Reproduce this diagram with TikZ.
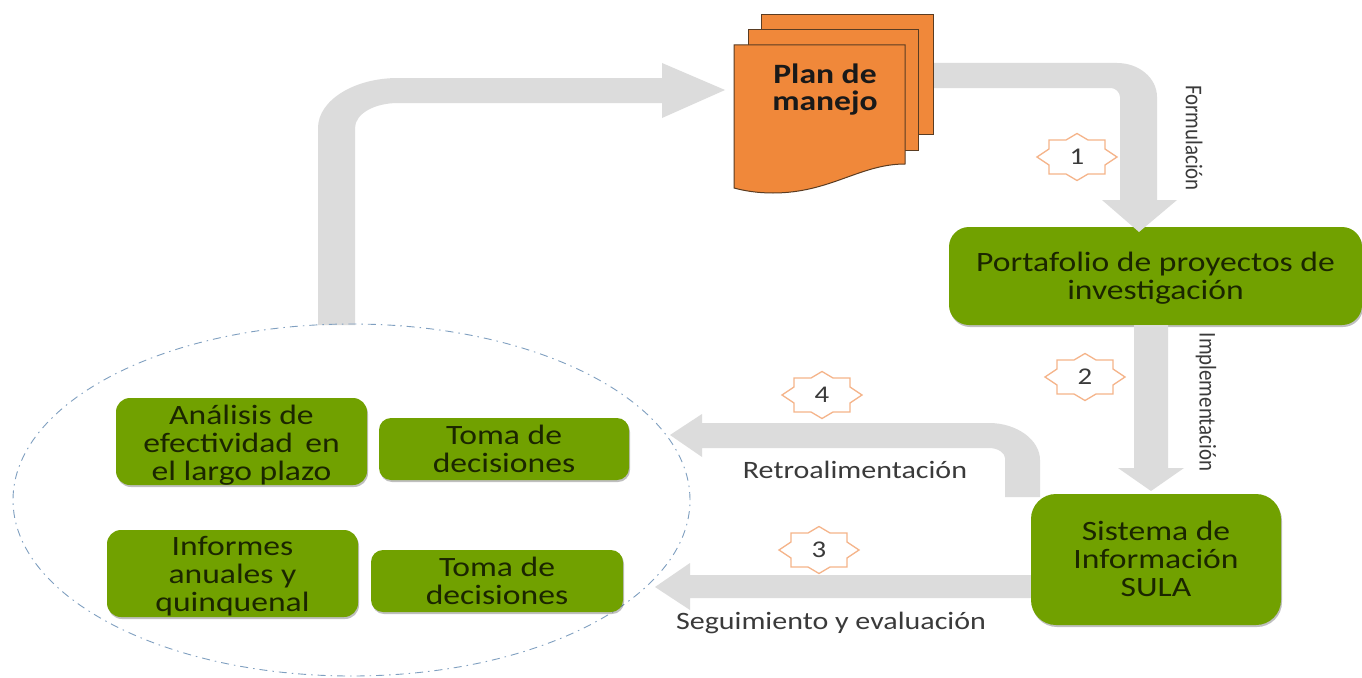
\documentclass[tikz,border=0pt]{standalone}
\usepackage{fontspec}
\usetikzlibrary{shadows,shapes.geometric}
\setmainfont{Carlito}
\newfontfamily\widefont[FakeStretch=1.2]{Carlito}
\newfontfamily\narrowfont[FakeStretch=0.87]{Carlito}
\definecolor{boxgreen}{HTML}{71A100}
\definecolor{textdark}{HTML}{1B2600}
\definecolor{docorange}{HTML}{F0883A}
\definecolor{docedge}{HTML}{5A3C22}
\definecolor{flowgray}{HTML}{DCDCDC}
\definecolor{starline}{HTML}{F5B48A}
\definecolor{ringblue}{HTML}{7F9FC0}
\definecolor{labelgray}{HTML}{3A3A3A}
\newcommand{\lineat}[2]{\raisebox{#1}[21pt][5.5pt]{#2}}
\tikzset{
  greenbox/.style={fill=boxgreen,draw=none,rounded corners=#1,align=center,inner sep=0pt,
    text=textdark,font=\widefont\fontsize{28}{28}\selectfont,
    drop shadow={shadow xshift=1pt,shadow yshift=-2pt,opacity=.25,fill=black}},
  greenbox/.default=16pt,
  flowarrow/.style={fill=flowgray,draw=none},
  sheet/.style={fill=docorange,draw=docedge,line width=1pt},
  starbadge/.style={draw=starline,line width=1.3pt,fill=white,line join=miter},
  starnum/.style={inner sep=0pt,text=labelgray,font=\widefont\fontsize{24}{24}\selectfont},
  flatlabel/.style={inner sep=0pt,text=labelgray,font=\widefont\fontsize{25}{26}\selectfont},
  sidelabel/.style={inner sep=0pt,text=labelgray,rotate=-90,font=\narrowfont\fontsize{24}{24}\selectfont},
  ring/.style={draw=ringblue,line width=.9pt,dash pattern=on 8pt off 5pt on 1.5pt off 5pt},
}
\newcommand{\starat}[4]{%
  \draw[starbadge,shift={(#2,#3)}] (40,0)--(28,-8)--(28,-17)--(11,-17)--(0,-23.5)--(-11,-17)--(-28,-17)--(-28,-8)--(-40,0)--(-28,8)--(-28,17)--(-11,17)--(0,23.5)--(11,17)--(28,17)--(28,8)--cycle;
  \node[starnum] (#1) at (#2,#3) {#4};}
\begin{document}
\begin{tikzpicture}[x=1pt,y=-1pt]
\useasboundingbox (0,0) rectangle (1362,677);
\fill[white] (0,0) rectangle (1362,677);

\node[greenbox=20pt,minimum width=413pt,minimum height=98pt] (port) at (1155.5,276) {\lineat{-2pt}{Portafolio de proyectos de}\\\lineat{-2pt}{investigación}};

\coordinate (a0) at (336.5,325);
\coordinate (b0) at (925,75.5);
\coordinate (c0) at (1151,325);
\coordinate (d0) at (1022.5,497);
\coordinate (e0) at (1040,586.5);

% Ciclo: evaluacion -> plan de manejo
\fill[flowarrow] (a0) ++(-18.5,0) -- ++(0,-197) .. controls +(0,-27.6) and +(-44,0) .. ++(80,-50)
  -- ++(264,0) -- ++(0,-15) -- ++(63,27) -- ++(-63,28) -- ++(0,-15) -- ++(-264,0)
  .. controls +(-24,0) and +(0,-14) .. ++(-43,25) -- ++(0,197) -- cycle;
% Formulacion
\fill[flowarrow] (b0) ++(0,-12.5) -- ++(192,0) .. controls +(22,0) and +(0,-19) .. ++(40,34)
  -- ++(0,103) -- ++(20,0) -- ++(-38,32) -- ++(-37,-32) -- ++(18,0) -- ++(0,-103)
  .. controls +(0,-5) and +(4,0) .. ++(-9,-9) -- ++(-186,0) -- cycle;
% Implementacion
\fill[flowarrow] (c0) ++(-17,0) -- ++(0,143) -- ++(-16,0) -- ++(33,23) -- ++(33,-23) -- ++(-16,0) -- ++(0,-143) -- cycle;
% Retroalimentacion
\fill[flowarrow] (d0) ++(17.5,0) -- ++(0,-37) .. controls +(0,-20) and +(28,0) .. ++(-51,-37)
  -- ++(-287,0) -- ++(0,-9) -- ++(-32,21) -- ++(32,22) -- ++(0,-9) -- ++(287,0)
  .. controls +(9,0) and +(0,-5) .. ++(16,10) -- ++(0,39) -- cycle;
% Seguimiento
\fill[flowarrow] (e0) ++(0,-11.5) -- ++(-350,0) -- ++(0,-12) -- ++(-35,24) -- ++(35,23) -- ++(0,-12) -- ++(350,0) -- cycle;

% Plan de manejo
\draw[sheet] (761,15) rectangle (933,134);
\draw[sheet] (748,30) rectangle (918,150);
\draw[sheet] (734,45) -- (905,45) -- (905,164) .. controls (860,164) and (830,193) .. (773,193) .. controls (758,193) and (745,191) .. (734,188) -- cycle;
\node[inner sep=0pt,align=center,text=black!90,font=\widefont\bfseries\fontsize{28}{27}\selectfont] (plan) at (825,89.5) {Plan de\\manejo};

\node[greenbox=25pt,minimum width=250pt,minimum height=131pt] (sula) at (1156,559.5) {\lineat{-1pt}{Sistema de}\\\lineat{-1pt}{Información}\\\lineat{-1pt}{SULA}};

\node[ring,ellipse,inner sep=0pt,minimum width=677pt,minimum height=352pt] (ell) at (351.5,500) {};

\node[greenbox=14pt,minimum width=251pt,minimum height=87pt] (ana) at (241.5,441.5) {\lineat{-3pt}{Análisis de}\\\lineat{-3pt}{efectividad\, en}\\\lineat{-3pt}{el largo plazo}};
\node[greenbox=12pt,minimum width=250pt,minimum height=62pt] (toma1) at (504,449) {Toma de\\decisiones};
\node[greenbox=14pt,minimum width=251pt,minimum height=87pt] (inf) at (232.5,573.5) {\lineat{-2.5pt}{Informes}\\\lineat{-2.5pt}{anuales y}\\\lineat{-2.5pt}{quinquenal}};
\node[greenbox=12pt,minimum width=252pt,minimum height=62pt] (toma2) at (497,581) {Toma de\\decisiones};

\starat{s1}{1077}{157}{1}
\starat{s2}{1085}{377}{2}
\starat{s3}{819}{550}{3}
\starat{s4}{822}{395}{4}

\node[sidelabel] (lf) at (1194,138) {Formulación};
\node[sidelabel] (li) at (1206,402) {Implementación};
\node[flatlabel] (lr) at (855,470) {Retroalimentación};
\node[flatlabel] (ls) at (831,623) {Seguimiento y evaluación};
\end{tikzpicture}
\end{document}
